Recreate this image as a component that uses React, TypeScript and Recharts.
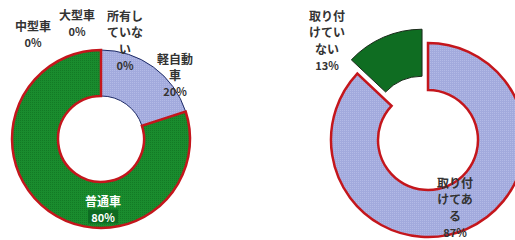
import React from 'react';
import { PieChart, Pie, Cell } from 'recharts';

const vehicleCategories = ['軽自動\n車', '普通車', '中型車', '大型車', '所有し\nていな\nい'];
const vehicleShares = [20, 80, 0, 0, 0];
const installCategories = ['取り付\nけてあ\nる', '取り付\nけてい\nない'];
const installShares = [87, 13];

const vehicleData = vehicleCategories.map((name, i) => ({ name, value: vehicleShares[i] }));
const installData = installCategories.map((name, i) => ({ name, value: installShares[i] }));

const FONT = '"Noto Sans CJK JP", "Noto Sans", sans-serif';

const LEFT = { cx: 101, cy: 139, inner: 43, outer: 89 };
const RIGHT = { cx: 428, cy: 140, inner: 50, outer: 97 };

// label anchor offsets (relative to pie centre) for first line centre
const leftLabelPos: [number, number][] = [[74, -81], [2, 61], [-68, -114], [-24, -125], [24, -124]];
const rightLabelPos: [number, number][] = [[27, 42], [-101, -125]];

const leftFills = ['url(#lav)', 'url(#grn)', 'none', 'none', 'none'];
const leftStrokes = ['#1d2a66', '#c4161c', 'none', 'none', 'none'];
const leftStrokeW = [1, 2.5, 0, 0, 0];
const leftTextFill = ['#333', '#ffffff', '#333', '#333', '#333'];

function makeLabel(pos: [number, number][], fills: string[], lineH: number) {
  return (props: any) => {
    const { cx, cy, index, payload } = props;
    const name: string = payload?.name ?? props.name;
    const value = payload?.value ?? props.value;
    const lines = [...name.split('\n'), `${value}%`];
    const [dx, dy] = pos[index];
    const fill = fills[index];
    return (
      <g key={`lbl-${index}`}>
        {index === 1 && fills[1] === '#ffffff' ? (
          <rect x={cx + dx - 15} y={cy + dy + lineH * (lines.length - 1) - 7} width={30} height={14} fill="#0e6b22" />
        ) : null}
        {lines.map((ln, i) => (
          <text
            key={i}
            x={cx + dx}
            y={cy + dy + i * lineH}
            textAnchor="middle"
            dominantBaseline="central"
            fontFamily={FONT}
            fontSize={i === lines.length - 1 ? 11 : 12}
            fontWeight={700}
            fill={fill}
          >
            {ln}
          </text>
        ))}
      </g>
    );
  };
}

export default function App() {
  const total = installShares.reduce((a, b) => a + b, 0);
  const before = installShares[0];
  const midFrac = (before + installShares[1] / 2) / total;
  const theta = midFrac * 2 * Math.PI;
  const explode = 15;
  const exX = RIGHT.cx + Math.sin(theta) * explode;
  const exY = RIGHT.cy - Math.cos(theta) * explode;

  return (
    <div style={{ position: 'absolute', left: 0, top: 0, width: 515, height: 240, background: '#fff' }}>
      <PieChart width={515} height={240} margin={{ top: 0, right: 0, bottom: 0, left: 0 }}>
        <defs>
          <pattern id="grn" patternUnits="userSpaceOnUse" width="2" height="2">
            <rect width="2" height="2" fill="#1a8c2e" />
            <rect width="1" height="1" fill="#137a25" />
          </pattern>
          <pattern id="lav" patternUnits="userSpaceOnUse" width="2" height="2">
            <rect width="2" height="2" fill="#a2aadd" />
            <rect width="1" height="1" fill="#b3bae6" />
          </pattern>
        </defs>
        <Pie
          data={vehicleData}
          dataKey="value"
          nameKey="name"
          cx={LEFT.cx}
          cy={LEFT.cy}
          innerRadius={LEFT.inner}
          outerRadius={LEFT.outer}
          startAngle={90}
          endAngle={-270}
          isAnimationActive={false}
          labelLine={false}
          label={makeLabel(leftLabelPos, leftTextFill, 16.5)}
        >
          {vehicleData.map((_, i) => (
            <Cell key={i} fill={leftFills[i]} stroke={leftStrokes[i]} strokeWidth={leftStrokeW[i]} />
          ))}
        </Pie>
        <Pie
          data={installData}
          dataKey="value"
          nameKey="name"
          cx={RIGHT.cx}
          cy={RIGHT.cy}
          innerRadius={RIGHT.inner}
          outerRadius={RIGHT.outer}
          startAngle={90}
          endAngle={-270}
          isAnimationActive={false}
          labelLine={false}
          label={makeLabel(rightLabelPos, ['#333', '#333'], 16.5)}
        >
          <Cell fill="url(#lav)" stroke="#c4161c" strokeWidth={2.5} />
          <Cell fill="none" stroke="none" />
        </Pie>
        <Pie
          data={installData}
          dataKey="value"
          nameKey="name"
          cx={exX}
          cy={exY}
          innerRadius={RIGHT.inner}
          outerRadius={RIGHT.outer}
          startAngle={90}
          endAngle={-270}
          isAnimationActive={false}
          labelLine={false}
          label={false}
        >
          <Cell fill="none" stroke="none" />
          <Cell fill="#0f6d22" stroke="#1a2a1a" strokeWidth={1} />
        </Pie>
      </PieChart>
    </div>
  );
}
